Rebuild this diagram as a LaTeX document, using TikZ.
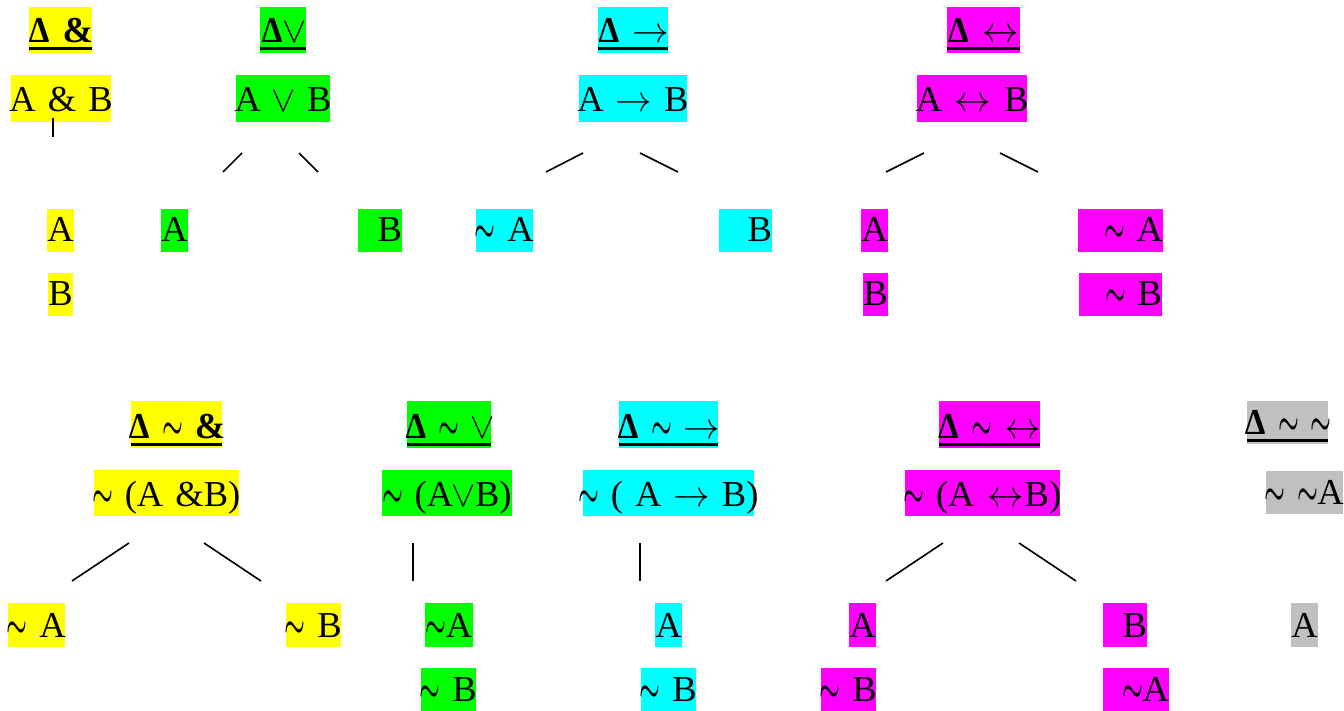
\RequirePackage{fix-cm}
\documentclass[tikz,border=0pt]{standalone}
\usepackage{fontspec}
\usepackage{graphicx}
\setmainfont{Liberation Serif}
\definecolor{hy}{HTML}{FFFF00}
\definecolor{hg}{HTML}{00FF00}
\definecolor{hc}{HTML}{00FFFF}
\definecolor{hm}{HTML}{FF00FF}
\definecolor{hs}{HTML}{C0C0C0}
% logic symbols in Symbol-font proportions
\newcommand\tl{\makebox[0.55em]{\scalebox{0.64}[1.1]{\boldmath$\sim$}}}
\newcommand\vl{\makebox[0.6em]{$\vee$}}
\newcommand\ra{\makebox[0.99em]{$\rightarrow$}}
\newcommand\lra{\makebox[1.04em]{$\leftrightarrow$}}
\newcommand\dl{\makebox[0.62em]{\scalebox{0.9}[1]{Δ}}}
\tikzset{
  hl/.style={inner sep=0pt, outer sep=0pt, text depth=10pt,
    font=\fontsize{36.5pt}{44pt}\selectfont},
  ttl/.style={font=\fontsize{36.5pt}{44pt}\selectfont\bfseries},
  uline/.style={line width=3pt},
  conn/.style={line width=1.6pt, black},
}
% highlighted text box: name, colour, x1, y1, x2, y2, alignment (c/r), text
\newcommand\hlbox[9][]{%
  \pgfmathsetmacro\hlw{#5-#3}%
  \pgfmathsetmacro\hlh{#6-#4-10}%
  \node[hl, #1, fill=#2, text width=\hlw pt, text height=\hlh pt,
        anchor=north west] (#8) at (#3,#4) {\makebox[\linewidth][#7]{#9}};}
\newcommand\ttlbox[7]{%
  \hlbox[ttl]{#2}{#3}{#4}{#5}{#6}{c}{#1}{#7}%
  \draw[uline] ([yshift=4pt]#1.south west) -- ([yshift=4pt]#1.south east);}
\begin{document}
\begin{tikzpicture}[x=1pt,y=-1pt]
\useasboundingbox (0,0) rectangle (1344,711);

% ---------- upper row: the four connectives ----------
\ttlbox{t1}{hy}{29}{7}{92}{53}{\dl{} \&}
\ttlbox{t2}{hg}{260}{7}{306}{53}{\dl\vl}
\ttlbox{t3}{hc}{598}{7}{668}{53}{\dl{} \ra}
\ttlbox{t4}{hm}{947}{7}{1020}{53}{\dl{} \lra}

\hlbox{hy}{11}{75}{111}{122}{c}{f1}{A \& B}
\hlbox{hg}{236}{75}{330}{122}{c}{f2}{A \vl{} B}
\hlbox{hc}{579}{75}{687}{122}{c}{f3}{A \ra{} B}
\hlbox{hm}{917}{75}{1027}{122}{c}{f4}{A \lra{} B}

% conjunction: one branch
\hlbox{hy}{47}{209}{74}{252}{c}{c1a}{A}
\hlbox{hy}{48}{273}{73}{316}{c}{c1b}{B}
% disjunction
\hlbox{hg}{161}{209}{188}{252}{c}{c2a}{A}
\hlbox{hg}{358}{209}{402}{252}{r}{c2b}{B}
% conditional
\hlbox{hc}{476}{209}{533}{252}{c}{c3a}{\tl{} A}
\hlbox{hc}{719}{209}{772}{252}{r}{c3b}{B}
% biconditional
\hlbox{hm}{861}{209}{888}{252}{c}{c4a}{A}
\hlbox{hm}{863}{273}{888}{316}{c}{c4b}{B}
\hlbox{hm}{1078}{209}{1163}{252}{r}{c4c}{\tl{} A}
\hlbox{hm}{1079}{273}{1162}{316}{r}{c4d}{\tl{} B}

\coordinate (a1) at (53,118);   \coordinate (a2) at (53,137);
\coordinate (b1) at (242,153);  \coordinate (b2) at (223,172);
\coordinate (b3) at (299,153);  \coordinate (b4) at (318,172);
\coordinate (d1) at (583,153);  \coordinate (d2) at (546,172);
\coordinate (d3) at (640,153);  \coordinate (d4) at (678,172);
\coordinate (e1) at (924,153);  \coordinate (e2) at (886,172);
\coordinate (e3) at (1000,153); \coordinate (e4) at (1038,172);
\draw[line width=1.2pt] (a1) -- (a2);
\draw[conn] (b1) -- (b2) (b3) -- (b4);
\draw[conn] (d1) -- (d2) (d3) -- (d4);
\draw[conn] (e1) -- (e2) (e3) -- (e4);

% ---------- lower row: the negated connectives ----------
\ttlbox{n1}{hy}{131}{401}{222}{448}{\dl{} \tl{} \&}
\ttlbox{n2}{hg}{407}{401}{491}{448}{\dl{} \tl{} \vl}
\ttlbox{n3}{hc}{619}{401}{718}{448}{\dl{} \tl{} \ra}
\ttlbox{n4}{hm}{939}{401}{1040}{448}{\dl{} \tl{} \lra}
\ttlbox{n5}{hs}{1247}{401}{1328}{444}{\dl{} \tl{} \tl}

\hlbox{hy}{94}{470}{239}{516}{c}{g1}{\tl{} (A \&B)}
\hlbox{hg}{382}{470}{512}{516}{c}{g2}{\tl{} (A\vl{}B)}
\hlbox{hc}{583}{470}{754}{516}{c}{g3}{\tl{} ( A \ra{} B)}
\hlbox{hm}{905}{470}{1060}{516}{c}{g4}{\tl{} (A \lra{}B)}
\hlbox{hs}{1266}{471}{1343}{514}{c}{g5}{\tl{} \tl{}A}

\hlbox{hy}{8}{603}{65}{647}{c}{k1a}{\tl{} A}
\hlbox{hy}{286}{603}{341}{647}{c}{k1b}{\tl{} B}
\hlbox{hg}{425}{603}{473}{647}{c}{k2a}{\tl{}A}
\hlbox{hg}{421}{668}{476}{711}{c}{k2b}{\tl{} B}
\hlbox{hc}{655}{603}{682}{647}{c}{k3a}{A}
\hlbox{hc}{641}{668}{696}{711}{c}{k3b}{\tl{} B}
\hlbox{hm}{849}{603}{876}{647}{c}{k4a}{A}
\hlbox{hm}{821}{668}{876}{711}{c}{k4b}{\tl{} B}
\hlbox{hm}{1103}{603}{1147}{647}{r}{k4c}{B}
\hlbox{hm}{1103}{668}{1169}{711}{r}{k4d}{\tl{}A}
\hlbox{hs}{1291}{603}{1318}{647}{c}{k5a}{A}

\coordinate (p1) at (129,543);  \coordinate (p2) at (72,581);
\coordinate (p3) at (204,543);  \coordinate (p4) at (261,581);
\coordinate (q1) at (413,543);  \coordinate (q2) at (413,581);
\coordinate (r1) at (640,543);  \coordinate (r2) at (640,581);
\coordinate (s1) at (943,543);  \coordinate (s2) at (886,581);
\coordinate (s3) at (1019,543); \coordinate (s4) at (1076,581);
\draw[conn] (p1) -- (p2) (p3) -- (p4);
\draw[conn] (q1) -- (q2);
\draw[conn] (r1) -- (r2);
\draw[conn] (s1) -- (s2) (s3) -- (s4);
\end{tikzpicture}
\end{document}
